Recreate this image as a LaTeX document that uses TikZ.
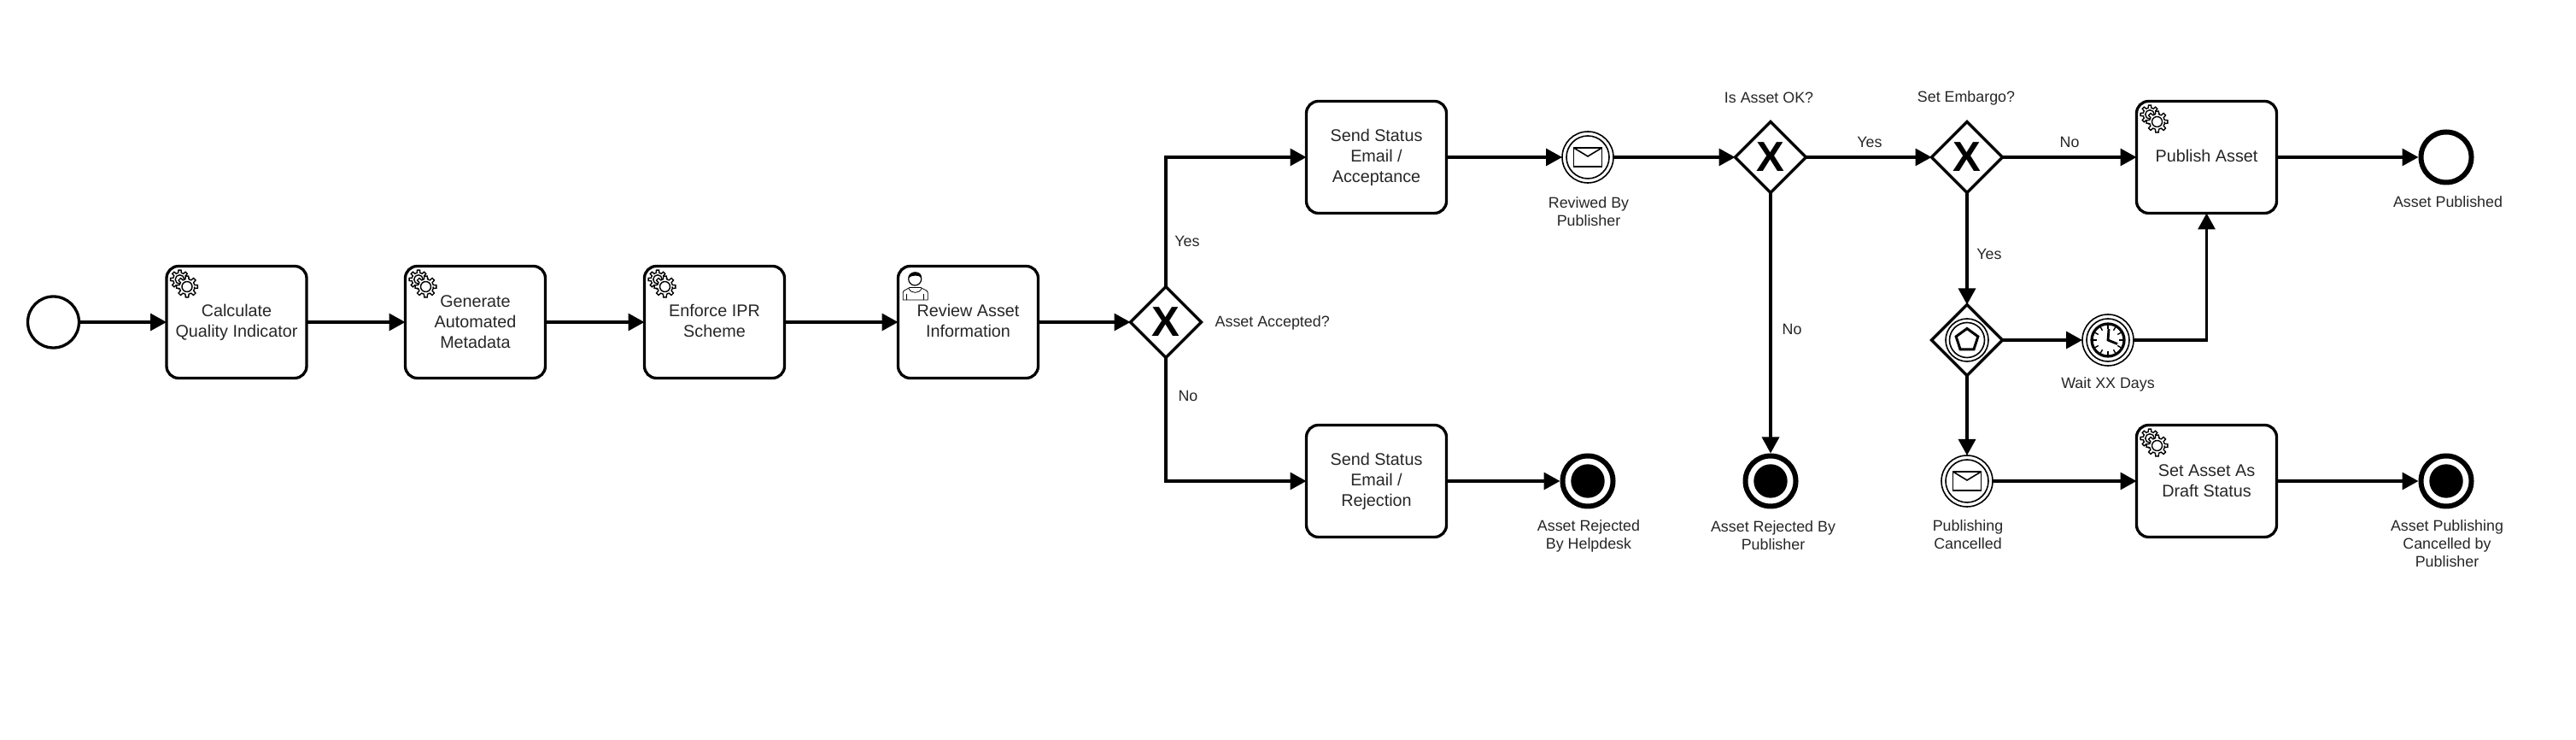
\documentclass[tikz,border=0pt]{standalone}
\usepackage{fontspec}
\setmainfont{Liberation Sans}
\usetikzlibrary{arrows.meta,shapes.geometric}

\tikzset{
    flow/.style={line width=0.033cm, -{Triangle[length=0.19cm,width=0.2cm]}},
    task/.style={draw, line width=0.033cm, rectangle, rounded corners=0.14cm, minimum width=1.64cm, minimum height=1.31cm, inner sep=0pt, outer sep=0pt, align=center, text=black!85, font=\fontsize{5.63}{6.83}\selectfont},
    startev/.style={draw, circle, line width=0.033cm, minimum size=0.6cm, inner sep=0pt, outer sep=0pt},
    midev/.style={draw, circle, line width=0.016cm, minimum size=0.6cm, inner sep=0pt, outer sep=0pt},
    endev/.style={draw, circle, line width=0.06cm, minimum size=0.59cm, inner sep=0pt, outer sep=0.03cm},
    gateway/.style={draw, diamond, line width=0.033cm, minimum width=0.83cm, minimum height=0.83cm, inner sep=0pt, outer sep=0pt, font=\fontsize{14}{14}\bfseries\selectfont},
    lbl/.style={align=center, inner sep=0pt, text=black!85, font=\fontsize{5.08}{5.97}\selectfont},
    % gears in the corner of a service task
    cog/.pic={
        \draw[line width=0.014cm, fill=white] (0:0.085)
            \foreach \a in {0,45,...,315} {
                -- (\a-13:0.09) -- (\a-8:0.125) -- (\a+8:0.125) -- (\a+13:0.09) -- (\a+32:0.09)
            } -- cycle;
        \draw[line width=0.014cm] (0,0) circle (0.06);
    },
    gears/.pic={
        \pic[scale=0.88] at (0.155,-0.155) {cog};
        \pic at (0.24,-0.24) {cog};
    },
    % person in the corner of a user task
    person/.pic={
        \draw[line width=0.008cm, fill=white] (0.057,-0.395) -- (0.057,-0.31) .. controls (0.057,-0.28) and (0.10,-0.275) .. (0.135,-0.25) -- (0.265,-0.25) .. controls (0.30,-0.275) and (0.347,-0.28) .. (0.347,-0.31) -- (0.347,-0.395) -- cycle;
        \draw[line width=0.008cm] (0.10,-0.395) -- (0.10,-0.33) (0.30,-0.395) -- (0.30,-0.33);
        \draw[line width=0.008cm] (0.125,-0.26) .. controls (0.15,-0.325) and (0.25,-0.325) .. (0.275,-0.26);
        \draw[line width=0.012cm, fill=white] (0.197,-0.15) circle (0.075);
        \fill (0.12,-0.14) .. controls (0.11,-0.05) and (0.29,-0.04) .. (0.274,-0.14) .. controls (0.25,-0.10) and (0.16,-0.10) .. cycle;
    },
    envelope/.pic={
        \draw[line width=0.016cm, fill=white] (-0.165,-0.11) rectangle (0.165,0.11);
        \draw[line width=0.016cm] (-0.165,0.11) -- (0,0.01) -- (0.165,0.11);
    },
    clock/.pic={
        \draw[line width=0.032cm] (0,0) circle (0.19);
        \foreach \a in {0,30,...,330} {
            \draw[line width=0.014cm] (\a:0.13) -- (\a:0.19);
        }
        \draw[line width=0.028cm] (0.01,0.13) -- (0,0) -- (0.11,-0.045);
    },
}

\begin{document}
\begin{tikzpicture}
    \useasboundingbox (0,0) rectangle (30.16,8.66);

    % Upper lane
    \node[task] (sendok) at (16.115, 6.82) {Send Status\\Email /\\Acceptance};
    \node[midev] (reviewed) at (18.59, 6.82) {};
    \node[gateway] (assetok) at (20.73, 6.82) {X};
    \node[gateway] (embargo) at (23.03, 6.82) {X};
    \node[task] (publish) at (25.835, 6.82) {Publish Asset\vphantom{y}};
    \node[endev] (published) at (28.64, 6.82) {};

    % Middle lane
    \node[startev] (start) at (0.625, 4.89) {};
    \node[task] (quality) at (2.77, 4.89) {Calculate\\Quality Indicator};
    \node[task] (metadata) at (5.565, 4.89) {Generate\\Automated\\Metadata};
    \node[task] (ipr) at (8.365, 4.89) {Enforce IPR\\Scheme\vphantom{y}};
    \node[task] (review) at (11.335, 4.89) {Review Asset\\Information\vphantom{y}};
    \node[gateway] (accepted) at (13.65, 4.89) {X};
    \node[gateway] (waitgate) at (23.03, 4.68) {};
    \node[midev] (waitdays) at (24.68, 4.68) {};

    % Lower lane
    \node[task] (sendno) at (16.115, 3.03) {Send Status\\Email /\\Rejection};
    \node[endev, fill=white] (rejecthelp) at (18.59, 3.03) {};
    \node[endev, fill=white] (rejectpub) at (20.73, 3.03) {};
    \node[midev] (cancelled) at (23.03, 3.03) {};
    \node[task] (draft) at (25.835, 3.03) {Set Asset As\\Draft Status};
    \node[endev, fill=white] (cancelend) at (28.64, 3.03) {};

    % Inner rings and marks
    \foreach \n in {reviewed,waitdays,cancelled} {
        \draw[line width=0.016cm] (\n) circle (0.25);
    }
    \foreach \n in {rejecthelp,rejectpub,cancelend} {
        \fill (\n) circle (0.197);
    }
    \draw[line width=0.016cm] (waitgate) circle (0.25);
    \draw[line width=0.016cm] (waitgate) circle (0.205);
    \node[draw, regular polygon, regular polygon sides=5, line width=0.03cm, minimum size=0.27cm, inner sep=0pt] (penta) at (23.03, 4.68) {};

    \pic at (quality.north west) {gears};
    \pic at (metadata.north west) {gears};
    \pic at (ipr.north west) {gears};
    \pic at (publish.north west) {gears};
    \pic at (draft.north west) {gears};
    \pic at (review.north west) {person};
    \pic at (reviewed) {envelope};
    \pic at (cancelled) {envelope};
    \pic at (waitdays) {clock};

    % Sequence flows
    \draw[flow] (start) -- (quality);
    \draw[flow] (quality) -- (metadata);
    \draw[flow] (metadata) -- (ipr);
    \draw[flow] (ipr) -- (review);
    \draw[flow] (review) -- (accepted);
    \draw[flow] (accepted.north) |- (sendok.west);
    \draw[flow] (accepted.south) |- (sendno.west);
    \draw[flow] (sendok) -- (reviewed);
    \draw[flow] (sendno) -- (rejecthelp);
    \draw[flow] (reviewed) -- (assetok);
    \draw[flow] (assetok) -- (embargo);
    \draw[flow] (assetok) -- (rejectpub);
    \draw[flow] (embargo) -- (publish);
    \draw[flow] (embargo) -- (waitgate);
    \draw[flow] (waitgate) -- (waitdays);
    \draw[flow] (waitdays) -| (publish.south);
    \draw[flow] (waitgate) -- (cancelled);
    \draw[flow] (cancelled) -- (draft);
    \draw[flow] (draft) -- (cancelend);
    \draw[flow] (publish) -- (published);

    % Labels
    \node[lbl, anchor=west] (lblaccepted) at (14.22, 4.88) {Asset Accepted?};
    \node[lbl] (lblyes1) at (13.90, 5.84) {Yes};
    \node[lbl] (lblno1) at (13.91, 4.03) {No};
    \node[lbl] (lblreviewed) at (18.60, 6.185) {Reviwed By\\Publisher};
    \node[lbl] (lblok) at (20.71, 7.52) {Is Asset OK?};
    \node[lbl] (lblembargo) at (23.02, 7.515) {Set Embargo?};
    \node[lbl] (lblyes2) at (21.89, 7.00) {Yes};
    \node[lbl] (lblno2) at (24.23, 7.00) {No};
    \node[lbl] (lblno3) at (20.98, 4.81) {No};
    \node[lbl] (lblyes3) at (23.29, 5.69) {Yes};
    \node[lbl] (lblwait) at (24.68, 4.16) {Wait XX Days};
    \node[lbl] (lblpublished) at (28.66, 6.30) {Asset Published};
    \node[lbl] (lblhelp) at (18.60, 2.39) {Asset Rejected\\By Helpdesk};
    \node[lbl] (lblpub) at (20.76, 2.39) {Asset Rejected By\\Publisher};
    \node[lbl] (lblcancel) at (23.04, 2.40) {Publishing\\Cancelled};
    \node[lbl] (lblend) at (28.65, 2.30) {Asset Publishing\\Cancelled by\\Publisher};
\end{tikzpicture}
\end{document}
